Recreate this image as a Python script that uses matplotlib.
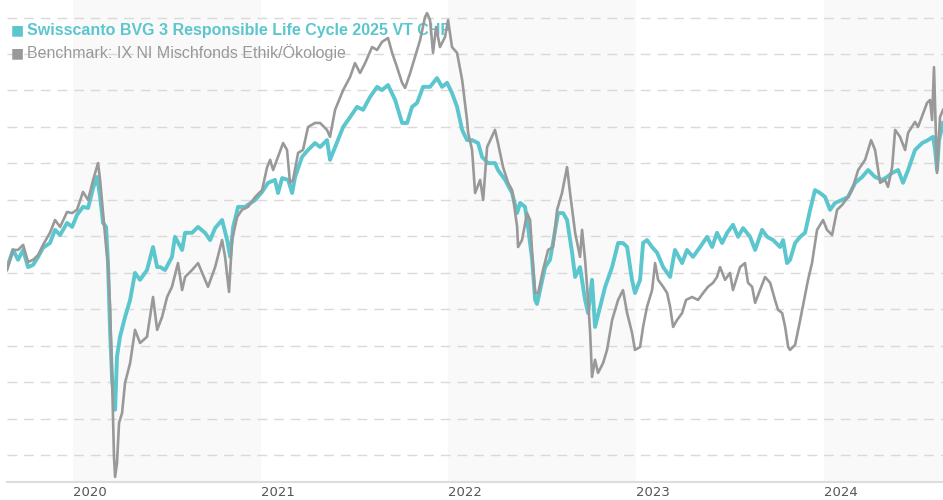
import matplotlib
matplotlib.use('agg')
import matplotlib.pyplot as plt

# time as decimal years, values as indexed performance
fund_t = [2019.648, 2019.680, 2019.707, 2019.734, 2019.760, 2019.787, 2019.814, 2019.840, 2019.877, 2019.904,
          2019.931, 2019.968, 2019.995, 2020.021, 2020.053, 2020.080, 2020.107, 2020.128, 2020.144, 2020.160,
          2020.176, 2020.186, 2020.197, 2020.208, 2020.224, 2020.234, 2020.250, 2020.277, 2020.304, 2020.330,
          2020.357, 2020.394, 2020.426, 2020.448, 2020.464, 2020.490, 2020.527, 2020.543, 2020.581, 2020.597,
          2020.634, 2020.666, 2020.703, 2020.730, 2020.757, 2020.794, 2020.821, 2020.837, 2020.853, 2020.879,
          2020.916, 2020.970, 2021.007, 2021.039, 2021.076, 2021.092, 2021.114, 2021.146, 2021.167, 2021.183,
          2021.220, 2021.252, 2021.289, 2021.316, 2021.353, 2021.369, 2021.396, 2021.439, 2021.476, 2021.513,
          2021.545, 2021.582, 2021.620, 2021.646, 2021.678, 2021.716, 2021.753, 2021.780, 2021.806, 2021.833,
          2021.865, 2021.902, 2021.939, 2021.966, 2021.993, 2022.019, 2022.046, 2022.073, 2022.099, 2022.126,
          2022.158, 2022.179, 2022.211, 2022.248, 2022.264, 2022.302, 2022.339, 2022.366, 2022.382, 2022.408,
          2022.424, 2022.446, 2022.462, 2022.472, 2022.515, 2022.541, 2022.557, 2022.584, 2022.611, 2022.632,
          2022.659, 2022.675, 2022.701, 2022.728, 2022.744, 2022.765, 2022.781, 2022.808, 2022.835, 2022.872,
          2022.904, 2022.930, 2022.952, 2022.978, 2022.994, 2023.021, 2023.037, 2023.058, 2023.085, 2023.112,
          2023.144, 2023.181, 2023.207, 2023.245, 2023.271, 2023.303, 2023.341, 2023.378, 2023.405, 2023.431,
          2023.458, 2023.485, 2023.516, 2023.543, 2023.570, 2023.607, 2023.634, 2023.671, 2023.698, 2023.730,
          2023.767, 2023.783, 2023.804, 2023.820, 2023.847, 2023.874, 2023.900, 2023.927, 2023.953, 2023.980,
          2024.007, 2024.033, 2024.060, 2024.097, 2024.129, 2024.167, 2024.204, 2024.236, 2024.273, 2024.310,
          2024.337, 2024.364, 2024.396, 2024.422, 2024.449, 2024.486, 2024.524, 2024.555, 2024.582, 2024.593,
          2024.603, 2024.614, 2024.635]
fund_v = [101.4, 106.3, 103.6, 106.3, 101.6, 102.2, 104.4, 106.9, 108.2, 111.8,
          110.4, 113.7, 112.6, 115.9, 118.1, 117.8, 123.3, 126.3, 120.8, 113.7,
          112.6, 102.7, 84.4, 70.7, 62.5, 77.0, 82.5, 87.9, 92.6, 100.0,
          98.1, 100.8, 107.1, 101.6, 101.6, 100.8, 104.4, 109.9, 106.3, 111.0,
          111.0, 112.6, 111.0, 109.0, 112.3, 114.5, 109.0, 104.4, 112.6, 118.1,
          118.1, 120.0, 122.2, 124.7, 125.5, 121.9, 126.0, 125.5, 121.9, 126.3,
          131.8, 133.7, 135.6, 134.5, 136.4, 131.0, 134.5, 140.0, 142.7, 145.5,
          144.7, 148.2, 151.0, 150.1, 151.5, 147.4, 141.1, 141.1, 145.5, 146.6,
          151.0, 151.0, 153.4, 151.0, 152.1, 149.3, 145.5, 139.2, 136.4, 136.4,
          135.6, 131.8, 130.1, 130.1, 128.2, 125.5, 121.9, 116.4, 119.2, 118.1,
          112.6, 103.6, 92.6, 91.5, 101.6, 103.6, 108.2, 116.4, 116.4, 114.5,
          105.5, 98.9, 101.6, 92.6, 89.0, 98.1, 85.2, 90.7, 96.2, 101.6,
          108.2, 108.2, 107.1, 98.1, 94.5, 98.1, 108.2, 109.0, 107.1, 105.5,
          101.6, 98.9, 106.3, 102.7, 106.3, 104.4, 107.1, 109.9, 107.1, 111.0,
          108.2, 111.0, 113.2, 109.9, 112.3, 109.9, 106.3, 111.8, 109.9, 109.0,
          107.1, 109.0, 102.7, 103.6, 108.2, 109.9, 111.0, 117.3, 122.7, 121.9,
          120.8, 117.3, 119.2, 120.0, 120.8, 124.7, 126.3, 128.2, 126.3, 125.5,
          126.3, 127.4, 128.2, 124.7, 128.2, 133.7, 135.6, 136.4, 137.3, 133.7,
          128.2, 136.4, 141.1]

bench_t = [2019.648, 2019.680, 2019.707, 2019.734, 2019.760, 2019.787, 2019.814, 2019.840, 2019.877, 2019.904,
           2019.931, 2019.968, 2019.995, 2020.021, 2020.053, 2020.080, 2020.107, 2020.133, 2020.144, 2020.160,
           2020.176, 2020.186, 2020.197, 2020.208, 2020.218, 2020.224, 2020.234, 2020.245, 2020.261, 2020.277,
           2020.304, 2020.330, 2020.357, 2020.394, 2020.426, 2020.448, 2020.474, 2020.501, 2020.527, 2020.559,
           2020.581, 2020.597, 2020.634, 2020.666, 2020.719, 2020.757, 2020.794, 2020.810, 2020.831, 2020.847,
           2020.874, 2020.900, 2020.932, 2020.970, 2021.007, 2021.034, 2021.050, 2021.066, 2021.092, 2021.119,
           2021.140, 2021.156, 2021.172, 2021.199, 2021.225, 2021.252, 2021.289, 2021.316, 2021.353, 2021.369,
           2021.396, 2021.439, 2021.476, 2021.502, 2021.529, 2021.556, 2021.593, 2021.620, 2021.646, 2021.678,
           2021.700, 2021.726, 2021.753, 2021.769, 2021.796, 2021.822, 2021.849, 2021.875, 2021.886, 2021.902,
           2021.918, 2021.934, 2021.955, 2021.982, 2021.998, 2022.019, 2022.046, 2022.073, 2022.099, 2022.105,
           2022.126, 2022.142, 2022.169, 2022.185, 2022.206, 2022.248, 2022.264, 2022.291, 2022.318, 2022.339,
           2022.366, 2022.371, 2022.392, 2022.419, 2022.435, 2022.451, 2022.462, 2022.478, 2022.504, 2022.531,
           2022.557, 2022.579, 2022.605, 2022.632, 2022.648, 2022.675, 2022.701, 2022.712, 2022.728, 2022.744,
           2022.755, 2022.765, 2022.781, 2022.797, 2022.824, 2022.845, 2022.872, 2022.904, 2022.930, 2022.952,
           2022.978, 2022.994, 2023.021, 2023.037, 2023.058, 2023.085, 2023.101, 2023.117, 2023.144, 2023.165,
           2023.181, 2023.197, 2023.218, 2023.245, 2023.266, 2023.298, 2023.330, 2023.357, 2023.383, 2023.410,
           2023.431, 2023.447, 2023.474, 2023.500, 2023.516, 2023.538, 2023.554, 2023.580, 2023.596, 2023.618,
           2023.634, 2023.660, 2023.687, 2023.714, 2023.740, 2023.756, 2023.778, 2023.794, 2023.810, 2023.820,
           2023.847, 2023.874, 2023.900, 2023.916, 2023.937, 2023.964, 2023.996, 2024.017, 2024.044, 2024.071,
           2024.097, 2024.129, 2024.156, 2024.183, 2024.220, 2024.252, 2024.273, 2024.300, 2024.326, 2024.342,
           2024.364, 2024.380, 2024.406, 2024.433, 2024.449, 2024.486, 2024.502, 2024.550, 2024.566, 2024.577,
           2024.587, 2024.603, 2024.619, 2024.635]
bench_v = [100.8, 106.3, 106.3, 107.7, 103.0, 103.6, 104.9, 107.7, 111.0, 114.5,
           112.6, 116.7, 116.4, 117.3, 122.2, 120.0, 125.5, 130.1, 125.5, 116.4,
           107.1, 102.7, 90.7, 70.7, 49.6, 44.1, 47.9, 58.9, 61.6, 69.9,
           75.3, 84.4, 80.8, 82.5, 93.4, 84.4, 87.9, 93.4, 96.2, 102.7,
           95.3, 98.9, 100.8, 102.7, 96.2, 101.6, 109.0, 104.4, 94.8, 109.0,
           115.3, 117.3, 118.1, 120.8, 122.7, 129.0, 131.0, 128.2, 131.8, 135.6,
           133.7, 124.7, 125.5, 132.9, 133.7, 140.0, 141.1, 141.1, 139.2, 137.3,
           144.7, 150.1, 153.7, 157.5, 154.8, 157.5, 161.9, 161.1, 163.3, 164.4,
           160.3, 156.4, 152.1, 150.7, 154.8, 159.2, 163.8, 170.1, 171.2, 169.3,
           160.3, 167.4, 161.9, 164.7, 169.3, 161.9, 160.3, 152.9, 141.9, 138.4,
           133.7, 121.9, 125.5, 120.0, 134.5, 139.2, 135.6, 129.0, 124.7, 122.7,
           112.6, 107.1, 109.0, 116.4, 114.5, 101.6, 94.5, 94.5, 100.8, 106.3,
           107.1, 117.3, 121.9, 129.0, 121.9, 111.0, 104.4, 111.8, 103.6, 92.6,
           83.6, 71.5, 76.2, 72.6, 75.3, 78.9, 87.1, 92.6, 95.3, 89.0,
           83.6, 78.9, 79.7, 85.2, 90.7, 95.3, 102.7, 98.1, 96.2, 94.5,
           90.7, 85.2, 87.1, 89.0, 92.6, 93.4, 92.6, 94.5, 96.2, 97.3,
           98.9, 101.6, 98.1, 100.0, 95.3, 98.9, 101.6, 102.7, 97.3, 96.2,
           91.8, 95.3, 98.9, 97.3, 92.6, 89.9, 89.0, 85.2, 79.7, 78.9,
           80.3, 87.1, 94.0, 98.1, 102.7, 111.8, 114.5, 111.8, 110.4, 117.3,
           118.6, 120.8, 123.6, 128.2, 131.0, 136.4, 133.7, 124.7, 125.5, 123.6,
           129.0, 139.2, 137.3, 133.7, 138.4, 141.4, 140.0, 146.6, 147.4, 141.9,
           156.4, 127.4, 142.7, 144.7]

years = [2020, 2021, 2022, 2023, 2024]
shaded_years = [2020, 2022, 2024]
fund_name = "Swisscanto BVG 3 Responsible Life Cycle 2025 VT CHF"
bench_name = "Benchmark: IX NI Mischfonds Ethik/Ökologie"

teal = '#5bc6cd'
grey = '#999999'
W, H = 943, 500

fig = plt.figure(figsize=(W / 100, H / 100), dpi=100)
ax = fig.add_axes([7 / W, 18 / H, 936 / W, 482 / H])

x0, x1 = fund_t[0], fund_t[-1]
for y in shaded_years:
    ax.axvspan(y, min(y + 1, x1), color='#f9f9f9', lw=0, zorder=0)

ax.plot(fund_t, fund_v, color=teal, lw=2.8, zorder=3)
ax.plot(bench_t, bench_v, color=grey, lw=1.9, zorder=4)

ax.set_xlim(x0, x1)
ax.set_ylim(42.7, 174.8)
ax.set_yticks(range(50, 171, 10))
ax.yaxis.grid(True, color='#d9d9d9', lw=1, linestyle=(0, (7, 5)))
ax.set_axisbelow(True)
ax.tick_params(axis='y', left=False, labelleft=False)

ax.set_xticks(years)
ax.set_xticklabels([str(y) for y in years], fontsize=9.5, color='#555555')
for lbl in ax.get_xticklabels():
    lbl.set_horizontalalignment('left')
ax.tick_params(axis='x', length=0, pad=3)

for s in ['left', 'right', 'top']:
    ax.spines[s].set_visible(False)
ax.spines['bottom'].set_color('#dddddd')
ax.spines['bottom'].set_linewidth(1.5)

# legend in top left, drawn under the lines
tf = fig.transFigure
ax.text(11 / W, 1 - 30 / H, '■', color=teal, fontsize=10, va='center', family='DejaVu Sans',
        transform=tf, zorder=2)
ax.text(27 / W, 1 - 30 / H, fund_name, color=teal, fontsize=11.5, fontweight='bold',
        va='center', family='Liberation Sans', transform=tf, zorder=2)
ax.text(11 / W, 1 - 53 / H, '■', color=grey, fontsize=10, va='center', family='DejaVu Sans',
        transform=tf, zorder=2)
ax.text(27 / W, 1 - 53 / H, bench_name, color=grey, fontsize=11.5,
        va='center', family='Liberation Sans', transform=tf, zorder=2)

fig.savefig('out.png', dpi=100)
